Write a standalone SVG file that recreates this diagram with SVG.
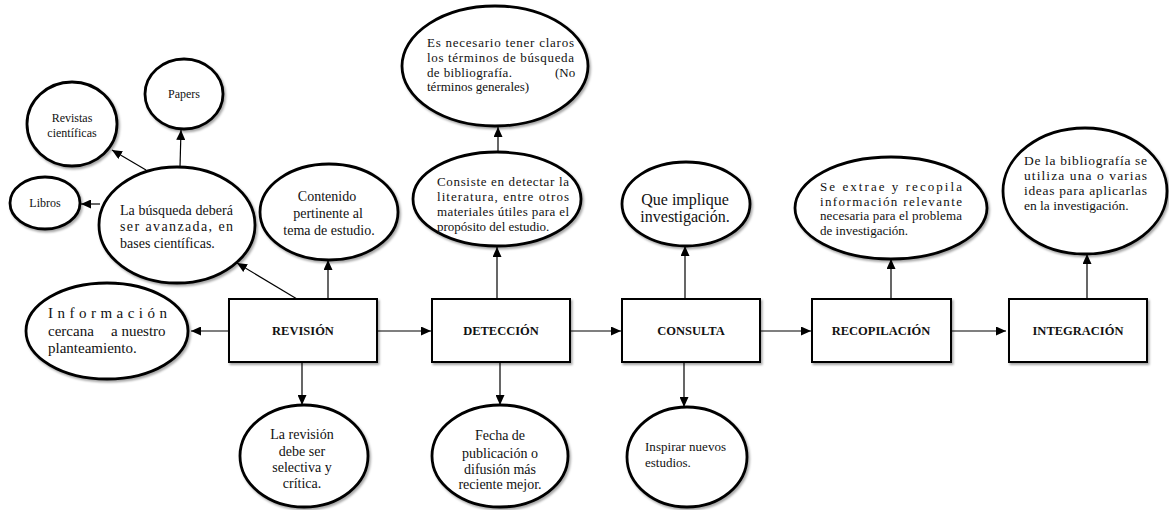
<svg xmlns="http://www.w3.org/2000/svg" width="1169" height="510" viewBox="0 0 1169 510">
<style>
.box{fill:#fff;stroke:#000;stroke-width:2;filter:url(#sh)}
.ell{fill:#fff;stroke:#000;stroke-width:2.8;filter:url(#sh)}
.lbl{font-weight:bold;font-size:12.5px;text-anchor:middle;fill:#111}
.t{fill:#111}
.c{text-anchor:middle}
.con{stroke:#000;stroke-width:1.2;fill:none;marker-end:url(#ah)}
</style>
<defs>
<filter id="sh" x="-10%" y="-10%" width="125%" height="130%">
<feDropShadow dx="1.5" dy="2" stdDeviation="1.2" flood-color="#000" flood-opacity="0.35"/>
</filter>
<marker id="ah" markerUnits="userSpaceOnUse" markerWidth="10" markerHeight="9" refX="10" refY="4.5" orient="auto">
<path d="M0,0 L10,4.5 L0,9 z" fill="#000"/>
</marker>
</defs>
<rect width="1169" height="510" fill="#fff"/>
<g id="connectors">
<path class="con" d="M229,331 L191,331"/>
<path class="con" d="M302,362 L302,405"/>
<path class="con" d="M328,299 L328,260"/>
<path class="con" d="M297,299 L237,263"/>
<path class="con" d="M377,331 L431,331"/>
<path class="con" d="M180,167 L181,130"/>
<path class="con" d="M146,170 L112,150"/>
<path class="con" d="M100,204 L81,204"/>
<path class="con" d="M497,299 L497,247"/>
<path class="con" d="M498,152 L498,127"/>
<path class="con" d="M500,362 L500,405"/>
<path class="con" d="M570,331 L621,331"/>
<path class="con" d="M685,299 L685,246"/>
<path class="con" d="M684,362 L684,407"/>
<path class="con" d="M760,331 L811,331"/>
<path class="con" d="M891,299 L891,259"/>
<path class="con" d="M951,331 L1006,331"/>
<path class="con" d="M1087,299 L1087,254"/>
</g>
<g font-family="'Liberation Serif', 'DejaVu Serif', serif">
<g id="revision"><rect class="box" x="229" y="299" width="148" height="63"/><text class="lbl" x="303" y="335">REVISIÓN</text></g>
<g id="deteccion"><rect class="box" x="432" y="299" width="138" height="63"/><text class="lbl" x="501" y="335">DETECCIÓN</text></g>
<g id="consulta"><rect class="box" x="622" y="299" width="138" height="63"/><text class="lbl" x="691" y="335">CONSULTA</text></g>
<g id="recopilacion"><rect class="box" x="812" y="299" width="139" height="63"/><text class="lbl" x="881" y="335">RECOPILACIÓN</text></g>
<g id="integracion"><rect class="box" x="1009" y="299" width="138" height="63"/><text class="lbl" x="1078" y="335">INTEGRACIÓN</text></g>

<g id="papers"><ellipse class="ell" cx="184" cy="94" rx="39" ry="35"/><text class="t c" font-size="12" x="184" y="98">Papers</text></g>
<g id="revistas"><ellipse class="ell" cx="72" cy="124" rx="45" ry="42"/><text class="t c" font-size="12"><tspan x="72" y="122">Revistas</tspan><tspan x="72" y="137">científicas</tspan></text></g>
<g id="libros"><ellipse class="ell" cx="45" cy="203" rx="35" ry="26"/><text class="t c" font-size="12" x="45" y="207">Libros</text></g>
<g id="busqueda"><ellipse class="ell" cx="177" cy="225" rx="78" ry="58"/><text class="t" font-size="14"><tspan x="120" y="215" textLength="113" lengthAdjust="spacing">La búsqueda deberá</tspan><tspan x="120" y="231" textLength="113" lengthAdjust="spacing">ser avanzada, en</tspan><tspan x="120" y="248">bases científicas.</tspan></text></g>
<g id="contenido"><ellipse class="ell" cx="329" cy="212" rx="69" ry="48"/><text class="t c" font-size="14"><tspan x="327" y="201">Contenido</tspan><tspan x="328" y="218">pertinente al</tspan><tspan x="329" y="235">tema de estudio.</tspan></text></g>
<g id="informacion"><ellipse class="ell" cx="107" cy="331" rx="81" ry="48"/><text class="t" font-size="15"><tspan x="48" y="318" textLength="119" lengthAdjust="spacing">Información</tspan><tspan x="48" y="336">cercana</tspan><tspan x="111" y="336">a nuestro</tspan><tspan x="48" y="353">planteamiento.</tspan></text></g>
<g id="la-revision"><ellipse class="ell" cx="304" cy="456" rx="64" ry="51"/><text class="t c" font-size="14"><tspan x="302" y="439">La revisión</tspan><tspan x="302" y="456">debe ser</tspan><tspan x="302" y="472">selectiva y</tspan><tspan x="302" y="488">crítica.</tspan></text></g>
<g id="es-necesario"><ellipse class="ell" cx="495" cy="66" rx="93" ry="60"/><text class="t" font-size="13"><tspan x="427" y="47" textLength="147" lengthAdjust="spacing">Es necesario tener claros</tspan><tspan x="427" y="62" textLength="147" lengthAdjust="spacing">los términos de búsqueda</tspan><tspan x="427" y="77" textLength="85" lengthAdjust="spacing">de bibliografía.</tspan><tspan x="555" y="77">(No</tspan><tspan x="427" y="91">términos generales)</tspan></text></g>
<g id="consiste"><ellipse class="ell" cx="497" cy="199" rx="84" ry="47"/><text class="t" font-size="13"><tspan x="437" y="186" textLength="132" lengthAdjust="spacing">Consiste en detectar la</tspan><tspan x="437" y="201" textLength="132" lengthAdjust="spacing">literatura, entre otros</tspan><tspan x="437" y="216" textLength="132" lengthAdjust="spacing">materiales útiles para el</tspan><tspan x="437" y="231">propósito del estudio.</tspan></text></g>
<g id="fecha"><ellipse class="ell" cx="500" cy="456" rx="68" ry="51"/><text class="t c" font-size="14"><tspan x="500" y="440">Fecha de</tspan><tspan x="500" y="458">publicación o</tspan><tspan x="500" y="474">difusión más</tspan><tspan x="500" y="489">reciente mejor.</tspan></text></g>
<g id="que-implique"><ellipse class="ell" cx="686" cy="204" rx="64" ry="42"/><text class="t c" font-size="16"><tspan x="685" y="205">Que implique</tspan><tspan x="685" y="222">investigación.</tspan></text></g>
<g id="inspirar"><ellipse class="ell" cx="687" cy="457" rx="60" ry="50"/><text class="t" font-size="13"><tspan x="645" y="451" textLength="81" lengthAdjust="spacing">Inspirar nuevos</tspan><tspan x="645" y="467">estudios.</tspan></text></g>
<g id="se-extrae"><ellipse class="ell" cx="891" cy="208" rx="96" ry="51"/><text class="t" font-size="13"><tspan x="820" y="191" textLength="142" lengthAdjust="spacing">Se extrae y recopila</tspan><tspan x="820" y="206" textLength="142" lengthAdjust="spacing">información relevante</tspan><tspan x="820" y="220" textLength="142" lengthAdjust="spacing">necesaria para el problema</tspan><tspan x="820" y="235">de investigación.</tspan></text></g>
<g id="de-la-bibliografia"><ellipse class="ell" cx="1085" cy="191" rx="82" ry="63"/><text class="t" font-size="13.5"><tspan x="1024" y="165" textLength="123" lengthAdjust="spacing">De la bibliografía se</tspan><tspan x="1024" y="180" textLength="123" lengthAdjust="spacing">utiliza una o varias</tspan><tspan x="1024" y="195" textLength="123" lengthAdjust="spacing">ideas para aplicarlas</tspan><tspan x="1024" y="210">en la investigación.</tspan></text></g>
</g>
</svg>
